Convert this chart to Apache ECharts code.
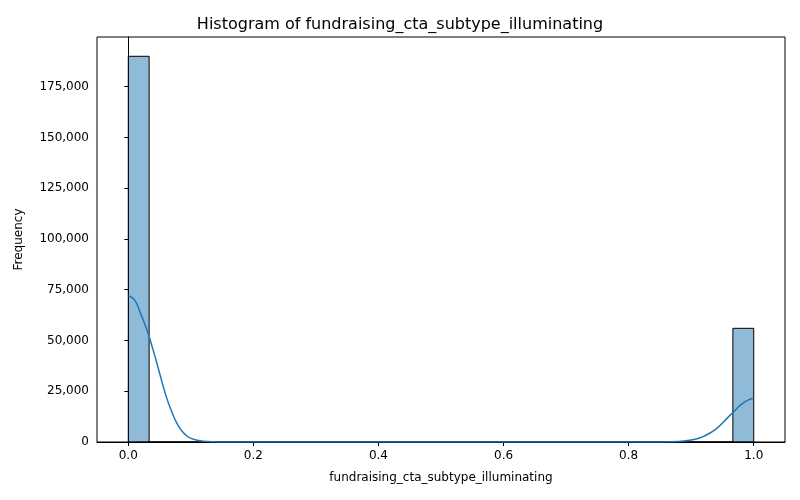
<!DOCTYPE html>
<html>
<head>
<meta charset="utf-8">
<title>Histogram</title>
<script src="https://cdn.jsdelivr.net/npm/echarts@6/dist/echarts.min.js"></script>
</head>
<body style="margin:0">
<div id="main" style="width:800px;height:500px;"></div>
<script>
// 30 bins over [0, 1]
var binCounts = [190000, 0, 0, 0, 0, 0, 0, 0, 0, 0, 0, 0, 0, 0, 0,
                 0, 0, 0, 0, 0, 0, 0, 0, 0, 0, 0, 0, 0, 0, 56000];
var kdeX = [0, 0.01, 0.02, 0.03, 0.04, 0.05, 0.06, 0.07, 0.08, 0.09, 0.10, 0.12, 0.15, 0.2,
            0.5, 0.8, 0.85, 0.88, 0.90, 0.92, 0.94, 0.96, 0.97, 0.98, 0.99, 1.0];
var kdeY = [72000, 70000, 63000, 55000, 45000, 34000, 23000, 14500, 8000, 4000, 1800, 400, 50, 0,
            0, 0, 50, 300, 1000, 2800, 6500, 12500, 15500, 18500, 20500, 21500];
var xTicks = [0, 0.2, 0.4, 0.6, 0.8, 1.0];
var yTicks = [0, 25000, 50000, 75000, 100000, 125000, 150000, 175000];

var binW = 1 / binCounts.length;
var bars = binCounts.map(function (c, i) { return [i * binW, (i + 1) * binW, c]; });
var kde = kdeX.map(function (x, i) { return [x, kdeY[i]]; });

var chart = echarts.init(document.getElementById('main'));
var txt = { color: '#000', fontSize: 12, fontFamily: 'DejaVu Sans' };
chart.setOption({
    animation: false,
    title: { text: 'Histogram of fundraising_cta_subtype_illuminating', left: 'center', top: 12,
             textStyle: { color: '#000', fontSize: 16, fontWeight: 'normal', fontFamily: 'DejaVu Sans' } },
    grid: { left: 97, right: 15, top: 37, bottom: 58, show: true, borderColor: '#000', borderWidth: 1 },
    xAxis: {
        type: 'value', min: -0.05, max: 1.05,
        name: 'fundraising_cta_subtype_illuminating', nameLocation: 'middle', nameGap: 30,
        nameTextStyle: txt,
        axisLine: { lineStyle: { color: '#000' } },
        axisTick: { customValues: xTicks, length: 4, lineStyle: { color: '#000' } },
        axisLabel: { customValues: xTicks, color: '#000', fontSize: 12, fontFamily: 'DejaVu Sans',
                     formatter: function (v) { return v.toFixed(1); } },
        splitLine: { show: false }
    },
    yAxis: {
        type: 'value', min: 0, max: 199500,
        name: 'Frequency', nameLocation: 'middle', nameGap: 72, nameTextStyle: txt,
        axisLine: { show: true, lineStyle: { color: '#000' } },
        axisTick: { show: true, customValues: yTicks, length: 4, lineStyle: { color: '#000' } },
        axisLabel: { customValues: yTicks, color: '#000', fontSize: 12, fontFamily: 'DejaVu Sans' },
        splitLine: { show: false }
    },
    series: [{
        type: 'custom',
        data: bars,
        encode: { x: [0, 1], y: 2 },
        renderItem: function (params, api) {
            var p0 = api.coord([api.value(0), api.value(2)]);
            var p1 = api.coord([api.value(1), 0]);
            return { type: 'rect', shape: { x: p0[0], y: p0[1], width: p1[0] - p0[0], height: p1[1] - p0[1] },
                     style: { fill: 'rgba(31,119,180,0.5)', stroke: '#000', lineWidth: 1 } };
        }
    }, {
        type: 'line', data: kde, smooth: true, showSymbol: false,
        lineStyle: { color: '#1f77b4', width: 1.5 }
    }]
});
</script>
</body>
</html>
